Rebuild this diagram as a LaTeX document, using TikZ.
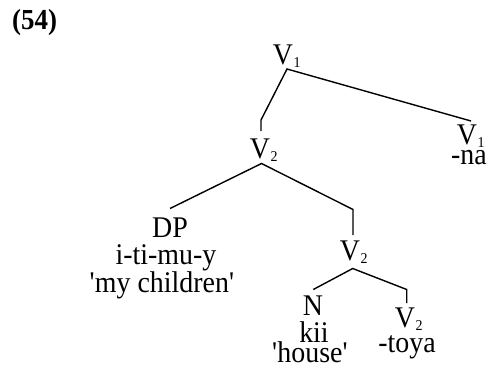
\documentclass[tikz,border=0pt]{standalone}
\usepackage{fontspec}
\setmainfont{Liberation Serif}[FakeStretch=0.93]
\newcommand{\subd}[1]{\rlap{\kern0.5pt\raisebox{-3pt}{\fontsize{15}{15}\selectfont #1}}}
\newcommand{\sq}{\textquotesingle}
\tikzset{
  lab/.style={anchor=base, inner sep=0pt, font=\fontsize{30}{30}\selectfont},
  br/.style={line width=1.4pt, line join=miter}
}
\begin{document}
\begin{tikzpicture}[x=1pt,y=-1pt]
\useasboundingbox (0,0) rectangle (494,367);
% labels
\node[anchor=base west, inner sep=0pt, font=\fontsize{29}{29}\selectfont\bfseries] (ex) at (12,29) {(54)};
\node[lab] (v1) at (283,64) {V\subd{1}};
\node[lab] (v1r) at (467,144) {V\subd{1}};
\node[lab] (na) at (469,164) {-na};
\node[lab] (v2) at (260,158) {V\subd{2}};
\node[lab] (dp) at (170,237) {DP};
\node[lab] (itimuy) at (166,264) {i-ti-mu-y};
\node[lab] (mych) at (162,292) {\sq my children\sq};
\node[lab] (v2b) at (350,260) {V\subd{2}};
\node[lab] (n) at (313,315) {N};
\node[lab] (kii) at (314,342) {kii};
\node[lab] (house) at (310,362) {\sq house\sq};
\node[lab] (v2c) at (405,327) {V\subd{2}};
\node[lab] (toya) at (407,352) {-toya};
% branch coordinates
\coordinate (b1) at (287,69);
\coordinate (b1l) at (261,120);
\coordinate (t2) at (261,131);
\coordinate (t1r) at (471,121);
\coordinate (b2) at (261.5,163.5);
\coordinate (tdp) at (170,208.5);
\coordinate (b2r) at (353,209.5);
\coordinate (t2b) at (353,235);
\coordinate (b3) at (352.7,268.5);
\coordinate (tn) at (313.3,289.5);
\coordinate (b3r) at (406.7,289.5);
\coordinate (t2c) at (406.7,303);
% branches
\draw[br] (t2) -- (b1l) -- (b1) -- (t1r);
\draw[br] (tdp) -- (b2) -- (b2r) -- (t2b);
\draw[br] (tn) -- (b3) -- (b3r) -- (t2c);
\end{tikzpicture}
\end{document}
